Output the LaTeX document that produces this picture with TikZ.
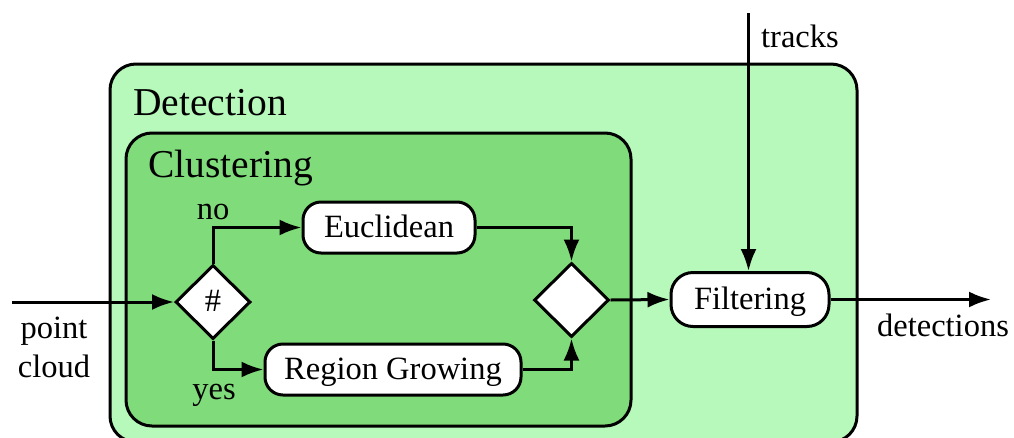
\documentclass[tikz,border=0pt]{standalone}
\usepackage{fontspec}
\setmainfont{Liberation Serif}
\newfontfamily\diagfont{Liberation Serif}
\usetikzlibrary{shapes.geometric,arrows.meta}
\definecolor{detfill}{RGB}{183,248,187}
\definecolor{clufill}{RGB}{128,219,122}
\tikzset{
  every node/.style={font=\diagfont\fontsize{32.5}{38.3}\selectfont},
  frame/.style={draw=black,line width=3pt,rounded corners=26pt},
  title/.style={font=\diagfont\fontsize{39.5}{44}\selectfont,anchor=base west,inner sep=0pt},
  stage/.style={draw=black,fill=white,line width=3pt,rounded corners=18pt,
    minimum height=51pt,inner sep=0pt,text height=23pt,text depth=4pt},
  gate/.style={diamond,draw=black,fill=white,line width=3pt,aspect=1,
    minimum width=75pt,minimum height=74pt,inner sep=0pt,text height=23pt,text depth=4pt},
  flow/.style={line width=3pt,-{Latex[length=22pt,width=16pt]}},
  lbl/.style={inner sep=0pt,align=center,anchor=base}
}
\begin{document}
\begin{tikzpicture}[x=1pt,y=-1pt]
\useasboundingbox (0,0) rectangle (1014,437);
% containers
\draw[frame,fill=detfill] (110,64) rectangle (857,442);
\draw[frame,fill=clufill] (126,133) rectangle (631,426);
\node[title] (dettitle) at (133,115) {Detection};
\node[title] (clutitle) at (148,177) {Clustering};
% processing stages
\node[gate] (split) at (213,302) {\#};
\node[gate] (merge) at (571.5,300) {};
\node[stage,minimum width=172pt] (eucl) at (389,227.5) {Euclidean};
\node[stage,minimum width=256pt] (region) at (393,369.5) {Region Growing};
\node[stage,minimum width=158pt,minimum height=54pt,rounded corners=22pt] (filter) at (750,299.5) {Filtering};
% free ends
\coordinate (inp) at (12,302);
\coordinate (trk) at (748.5,13);
\coordinate (outp) at (991,299.5);
% connectors
\draw[flow] (inp) -- (split.west);
\draw[flow] (split.north) |- (eucl.west);
\draw[flow] (split.south) |- (region.west);
\draw[flow] (eucl.east) -| (merge.north);
\draw[flow] (region.east) -| (merge.south);
\draw[flow] (merge.east) -- (filter.west);
\draw[flow] (trk) -- (filter.north -| trk);
\draw[flow] (filter.east) -- (outp);
% labels (base anchor sits on the last line)
\node[lbl] (nolbl) at (213,219) {no};
\node[lbl] (yeslbl) at (214,399) {yes};
\node[lbl] (pclbl) at (54,377) {point\\cloud};
\node[lbl] (detlbl) at (943,336) {detections};
\node[lbl] (trklbl) at (800,47) {tracks};
\end{tikzpicture}
\end{document}
